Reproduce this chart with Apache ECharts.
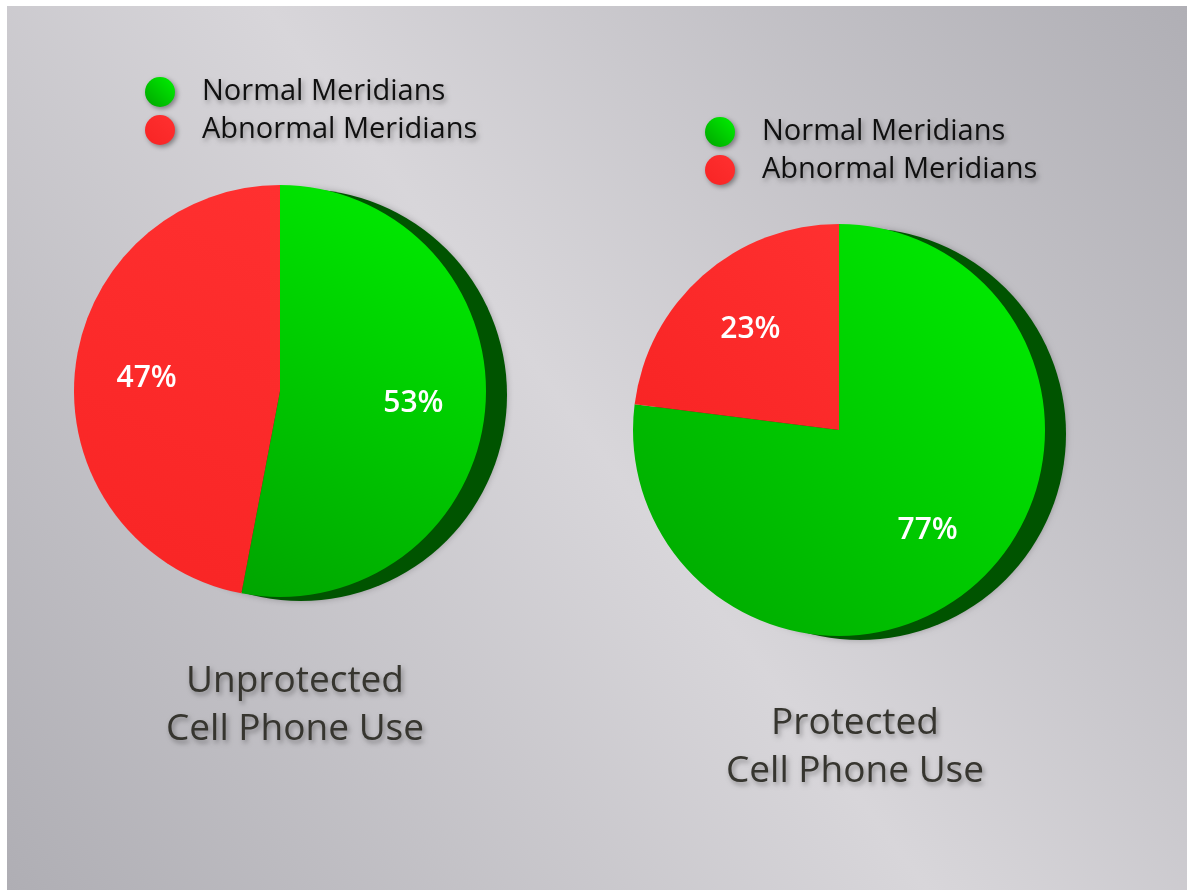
<!DOCTYPE html>
<html>
<head>
<meta charset="utf-8">
<script src="https://cdn.jsdelivr.net/npm/echarts@6/dist/echarts.min.js"></script>
<style>
  html, body { margin: 0; padding: 0; background: #ffffff; }
  #chart { position: absolute; left: 7px; top: 6px; width: 1180px; height: 884px; }
</style>
</head>
<body>
<div id="chart"></div>
<script>
const categories = ['Normal Meridians', 'Abnormal Meridians']
const unprotected = [53, 47]
const protectedUse = [77, 23]
const pieTitles = ['Unprotected\nCell Phone Use', 'Protected\nCell Phone Use']

const FONT = '"Open Sans", "Noto Sans", sans-serif'
const green = {
  type: 'linear', x: 1, y: 0, x2: 0, y2: 1,
  colorStops: [{offset: 0, color: '#00f200'}, {offset: 1, color: '#00a400'}]
}
const red = {
  type: 'linear', x: 1, y: 0, x2: 0, y2: 1,
  colorStops: [{offset: 0, color: '#ff3030'}, {offset: 1, color: '#f82424'}]
}
const colors = [green, red]
const textShadow = {
  textShadowColor: 'rgba(0,0,0,0.35)', textShadowBlur: 5, textShadowOffsetX: 2, textShadowOffsetY: 3
}

function toData(values) {
  return values.map((v, i) => ({name: categories[i], value: v, itemStyle: {color: colors[i]}}))
}

function pieSet(values, cx, cy) {
  const total = values.reduce((a, b) => a + b, 0)
  return [
    // dark green rim behind the face
    {
      type: 'pie', silent: true, radius: 206, center: [cx + 21, cy + 4],
      startAngle: 90, label: {show: false}, labelLine: {show: false},
      data: [{name: 'rim', value: total, itemStyle: {
        color: '#005400', shadowColor: 'rgba(0,0,0,0.25)', shadowBlur: 6
      }}]
    },
    {
      type: 'pie', radius: 206, center: [cx, cy], startAngle: 90,
      label: {show: false}, labelLine: {show: false},
      emphasis: {disabled: true},
      data: toData(values)
    },
    // transparent ring only carrying the percentage labels
    {
      type: 'pie', silent: true, radius: 262, center: [cx, cy], startAngle: 90,
      itemStyle: {color: 'transparent'},
      labelLine: {show: false},
      label: {
        show: true, position: 'inside', formatter: '{c}%',
        color: '#ffffff', fontSize: 30, fontWeight: 600, fontFamily: FONT,
        textBorderWidth: 0
      },
      data: values.map((v, i) => ({name: categories[i], value: v}))
    }
  ]
}

function legendAt(left, top) {
  return {
    orient: 'vertical', left: left, top: top, icon: 'circle',
    itemWidth: 50, itemHeight: 30, itemGap: 8,
    selectedMode: false, data: categories,
    itemStyle: {shadowColor: 'rgba(0,0,0,0.4)', shadowBlur: 5, shadowOffsetX: 2, shadowOffsetY: 2},
    textStyle: Object.assign({
      color: '#101010', fontSize: 29, fontFamily: FONT, padding: [0, 0, 0, 12]
    }, textShadow)
  }
}

function titleAt(text, left, top) {
  return {
    text: text, left: left, top: top, textAlign: 'center',
    textStyle: Object.assign({
      color: '#36352f', fontSize: 37, fontWeight: 'normal', fontFamily: FONT, lineHeight: 48
    }, textShadow)
  }
}

const chart = echarts.init(document.getElementById('chart'))
chart.setOption({
  backgroundColor: {
    type: 'linear', x: 1, y: 0, x2: 0, y2: 1,
    colorStops: [
      {offset: 0, color: '#b0afb5'},
      {offset: 0.5, color: '#d8d6da'},
      {offset: 1, color: '#afaeb4'}
    ]
  },
  animation: false,
  title: [
    titleAt(pieTitles[0], 283, 646),
    titleAt(pieTitles[1], 843, 688)
  ],
  legend: [legendAt(133, 66), legendAt(693, 106)],
  series: [].concat(pieSet(unprotected, 273, 385), pieSet(protectedUse, 832, 424))
})
</script>
</body>
</html>
